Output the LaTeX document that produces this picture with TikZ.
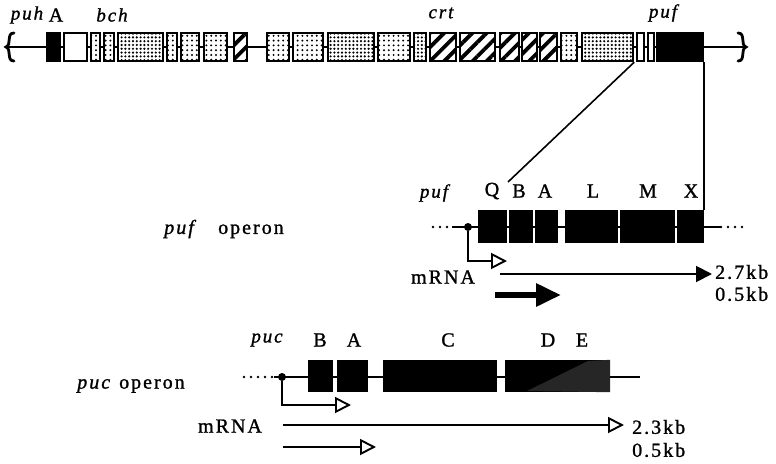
\documentclass[tikz,border=0pt]{standalone}
\usepackage{fontspec}
\setmainfont{Liberation Serif}[LetterSpace=10, FakeBold=1.2]
\usetikzlibrary{arrows.meta,patterns.meta}

% gene box from x0 to x1 (outer edges), centred on row y
\newcommand{\genebox}[5]{%
  \node[gene,#5,minimum width={#3-#2-2}] (#1) at ({(#2+#3)/2},#4) {};}

\begin{document}
\begin{tikzpicture}[x=1pt,y=-1pt,
  every node/.style={font=\fontsize{20}{22}\selectfont, inner sep=0pt},
  ital/.style={font=\fontsize{19}{22}\selectfont\itshape},
  gene/.style={draw, line width=2.4pt},
  toprow/.style={minimum height=28pt},
  oprow/.style={minimum height=30pt},
  blk/.style={fill=black},
  wht/.style={fill=white},
  speck/.style={preaction={fill=white}, pattern={Dots[radius=1.1pt,distance=4.8pt]}},
  speckd/.style={preaction={fill=white}, pattern={Dots[radius=1.2pt,distance=3.8pt]}},
  hatch/.style={preaction={fill=white}, pattern={Lines[angle=45,distance=10pt,line width=3.8pt]}},
  dna/.style={line width=1.8pt},
  brace/.style={line width=2.8pt, line cap=round},
  dotline/.style={line width=2.6pt, line cap=round, dash pattern=on 0pt off 7pt},
  pdot/.style={circle, fill=black, minimum size=8pt},
  openarrow/.style={line width=1.9pt, -{Triangle[open, length=16pt, width=16pt]}},
  fullarrow/.style={line width=1.9pt, -{Triangle[length=16pt, width=16pt]}},
  fatarrow/.style={line width=6pt, -{Triangle[length=25pt, width=22pt]}},
]
\useasboundingbox (0,0) rectangle (776,463);

% ---------- chromosome map ----------
\coordinate (lb) at (6,47);
\coordinate (rb) at (746,47);
\draw[dna] (lb) -- (rb);
\draw[brace] (14,33) .. controls (6,33) and (12,45) .. (lb)
             .. controls (12,49) and (6,61) .. (14,61);
\draw[brace] (738,33) .. controls (746,33) and (740,45) .. (rb)
             .. controls (740,49) and (746,61) .. (738,61);

\genebox{g1}{46}{61}{47}{toprow,blk}
\genebox{g2}{63}{88}{47}{toprow,wht}
\genebox{g3}{90}{101}{47}{toprow,speck}
\genebox{g4}{103}{115}{47}{toprow,speck}
\genebox{g5}{117}{164}{47}{toprow,speckd}
\genebox{g6}{166}{178}{47}{toprow,speck}
\genebox{g7}{180}{200}{47}{toprow,speck}
\genebox{g8}{203}{228}{47}{toprow,speck}
\genebox{g9}{233}{248}{47}{toprow,hatch}
\genebox{g10}{266}{290}{47}{toprow,speck}
\genebox{g11}{292}{324}{47}{toprow,speck}
\genebox{g12}{327}{375}{47}{toprow,speckd}
\genebox{g13}{377}{411}{47}{toprow,speck}
\genebox{g14}{413}{427}{47}{toprow,speckd}
\genebox{g15}{429}{457}{47}{toprow,hatch}
\genebox{g16}{459}{496}{47}{toprow,hatch}
\genebox{g17}{499}{520}{47}{toprow,hatch}
\genebox{g18}{521}{538}{47}{toprow,hatch}
\genebox{g19}{539}{558}{47}{toprow,hatch}
\genebox{g20}{560}{578}{47}{toprow,speck}
\genebox{g21}{581}{634}{47}{toprow,speckd}
\genebox{g22}{636}{645}{47}{toprow,wht}
\genebox{g23}{647}{655}{47}{toprow,wht}
\genebox{g24}{656}{704}{47}{toprow,blk}

\node[ital] (tpuh) at (27,15) {puh};
\node (tA) at (56,15) {A};
\node[ital] (tbch) at (112,15) {bch};
\node[ital] (tcrt) at (441,13) {crt};
\node[ital] (tpuf) at (663,13) {puf};

% ---------- puf operon ----------
\node (pufop) at (224,229) {\textit{puf}\quad operon};
\coordinate (pufdl) at (433,227);
\coordinate (pufdr) at (745,227);
\coordinate (pufl) at (452,227);
\coordinate (pufr) at (721,227);
\draw[dotline] (pufdl) -- (pufl);
\draw[dotline] (pufr) -- (pufdr);
\draw[dna] (pufl) -- (pufr);
\genebox{Q}{478}{507}{226.5}{oprow,blk}
\genebox{B}{509}{533}{226.5}{oprow,blk}
\genebox{A}{535}{558}{226.5}{oprow,blk}
\genebox{L}{565}{618}{226.5}{oprow,blk}
\genebox{M}{620}{675}{226.5}{oprow,blk}
\genebox{X}{677}{704}{226.5}{oprow,blk}

\node[ital] (lpuf) at (434,193) {puf};
\node (lQ) at (492,191) {Q};
\node (lB) at (519,191) {B};
\node (lA) at (545,191) {A};
\node (lL) at (593,191) {L};
\node (lM) at (648,191) {M};
\node (lX) at (691,191) {X};

% enlargement lines from the map
\coordinate (zq) at (508,182);
\draw[line width=1.6pt] (g21.south east) -- (zq);
\draw[line width=1.6pt] (g24.south east) -- (X.north east);

\node[pdot] (p1) at (468,227) {};
\coordinate (p1e) at (507,261);
\draw[openarrow] (p1) |- (p1e);

\node (mrna1) at (443,277) {mRNA};
\coordinate (r1s) at (500,274);
\coordinate (r1e) at (712,274);
\draw[fullarrow] (r1s) -- (r1e);
\coordinate (r2s) at (495,295);
\coordinate (r2e) at (561,295);
\draw[fatarrow] (r2s) -- (r2e);
\node[anchor=west] (kb1) at (715,272) {2.7kb};
\node[anchor=west] (kb2) at (715,294) {0.5kb};

% ---------- puc operon ----------
\node (pucop) at (131,386) {\textit{puc} operon};
\coordinate (pucdl) at (244,377);
\coordinate (pucl) at (274,377);
\coordinate (pucr) at (640,377);
\draw[dotline] (pucdl) -- (pucl);
\draw[dna] (pucl) -- (pucr);
\genebox{pB}{308}{333}{376}{oprow,blk}
\genebox{pA}{337}{368}{376}{oprow,blk}
\genebox{pC}{383}{497}{376}{oprow,blk}
\genebox{pDE}{505}{610}{376}{oprow,blk}
\fill[black!85] (527,391) -- (588,361) -- (pDE.north east) -- (pDE.south east) -- cycle;

\node[ital] (lpuc) at (267,340) {puc};
\node (lpB) at (320,340) {B};
\node (lpA) at (354,340) {A};
\node (lpC) at (448,340) {C};
\node (lpD) at (548,340) {D};
\node (lpE) at (582,340) {E};

\node[pdot] (p2) at (282,377) {};
\coordinate (p2e) at (351,405);
\draw[openarrow] (p2) |- (p2e);

\node (mrna2) at (230,426) {mRNA};
\coordinate (r3s) at (283,425);
\coordinate (r3e) at (624,425);
\draw[openarrow] (r3s) -- (r3e);
\coordinate (r4s) at (283,447);
\coordinate (r4e) at (376,447);
\draw[openarrow] (r4s) -- (r4e);
\node[anchor=west] (kb3) at (632,427) {2.3kb};
\node[anchor=west] (kb4) at (632,450) {0.5kb};
\end{tikzpicture}
\end{document}
